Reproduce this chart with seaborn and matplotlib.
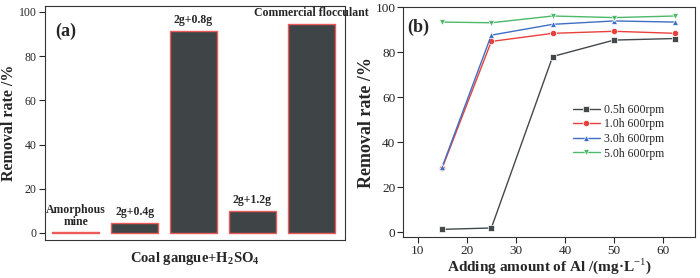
import matplotlib
matplotlib.use("Agg")
import matplotlib.pyplot as plt
import pandas as pd
import seaborn as sns

# panel (a)
bar_names = ["Amorphous\nmine", "2g+0.4g", "2g+0.8g", "2g+1.2g", "Commercial flocculant"]
bar_values = [0.2, 4.7, 91.5, 10.0, 94.6]

# panel (b)
dose = [15, 25, 37.5, 50, 62.5]
r_05h = [1.2, 1.8, 78.0, 85.3, 86.0]
r_10h = [28.5, 84.7, 88.3, 89.2, 88.3]
r_30h = [29.0, 87.5, 92.3, 93.8, 93.3]
r_50h = [93.3, 93.0, 96.0, 95.3, 96.0]
series_names = ["0.5h 600rpm", "1.0h 600rpm", "3.0h 600rpm", "5.0h 600rpm"]
series_colors = ["#43484b", "#e8413c", "#3f6fc4", "#4cb86a"]
series_markers = ["s", "o", "^", "v"]

sns.set_theme(style="ticks")
plt.rcParams["font.family"] = ["Liberation Serif", "DejaVu Serif"]
plt.rcParams["mathtext.fontset"] = "custom"
plt.rcParams["mathtext.rm"] = "Liberation Serif"
plt.rcParams["mathtext.bf"] = "Liberation Serif:bold"

fig = plt.figure(figsize=(7, 2.78), dpi=100)
ax1 = fig.add_axes([45 / 700, 38 / 278, 300 / 700, 234 / 278])
ax2 = fig.add_axes([403 / 700, 41 / 278, 292 / 700, 230 / 278])

df_a = pd.DataFrame({"name": bar_names, "value": bar_values})
sns.barplot(data=df_a, x="name", y="value", ax=ax1, color="#3f4446",
            saturation=1, width=0.8, edgecolor="#ec5a5a", linewidth=1)
ax1.set_xlim(-0.52, 4.57)
ax1.set_ylim(-3.2, 102.7)
ax1.set_xticks([])
ax1.set_yticks([0, 20, 40, 60, 80, 100])
ax1.set_xlabel(r"Coal gangue+H$_\mathbf{2}$SO$_\mathbf{4}$", fontsize=10.5,
               fontweight="bold", labelpad=7)
ax1.set_ylabel("Removal rate /%", fontsize=11.5, fontweight="bold", labelpad=1)
ax1.tick_params(axis="y", labelsize=8.5, length=4, width=0.8, pad=2)
for i, (n, v) in enumerate(zip(bar_names, bar_values)):
    ax1.text(i, v + 2, n, ha="center", va="bottom", fontsize=8.5,
             fontweight="bold", linespacing=1.0)
ax1.text(0.035, 0.87, "(a)", transform=ax1.transAxes, fontsize=13,
         fontweight="bold", va="baseline")

rows = []
for name, vals in zip(series_names, [r_05h, r_10h, r_30h, r_50h]):
    for x, y in zip(dose, vals):
        rows.append({"dose": x, "rate": y, "series": name})
df_b = pd.DataFrame(rows)
sns.lineplot(data=df_b, x="dose", y="rate", hue="series", style="series",
             palette=series_colors, markers=series_markers, dashes=False,
             markersize=4.5, markeredgewidth=0.5, linewidth=1, ax=ax2)
ax2.set_xlim(7, 66.5)
ax2.set_ylim(-2.2, 100)
ax2.set_xticks([10, 20, 30, 40, 50, 60])
ax2.set_yticks([0, 20, 40, 60, 80, 100])
ax2.set_xlabel("Adding amount of Al /(mg·L$^{-1}$)", fontsize=11,
               fontweight="bold", labelpad=0)
ax2.set_ylabel("Removal rate /%", fontsize=13, fontweight="bold", labelpad=0)
ax2.tick_params(labelsize=9.5, length=4, width=0.8, pad=1.5)
ax2.text(0.014, 0.89, "(b)", transform=ax2.transAxes, fontsize=13,
         fontweight="bold", va="baseline")
ax2.legend(title=None, frameon=False, fontsize=8.5, loc="upper left",
           bbox_to_anchor=(0.565, 0.6), handlelength=2.3, labelspacing=0.22,
           handletextpad=0.35, borderaxespad=0)

for ax in (ax1, ax2):
    for s in ax.spines.values():
        s.set_linewidth(0.8)
        s.set_color("#333333")

fig.savefig("out.png", dpi=100)
